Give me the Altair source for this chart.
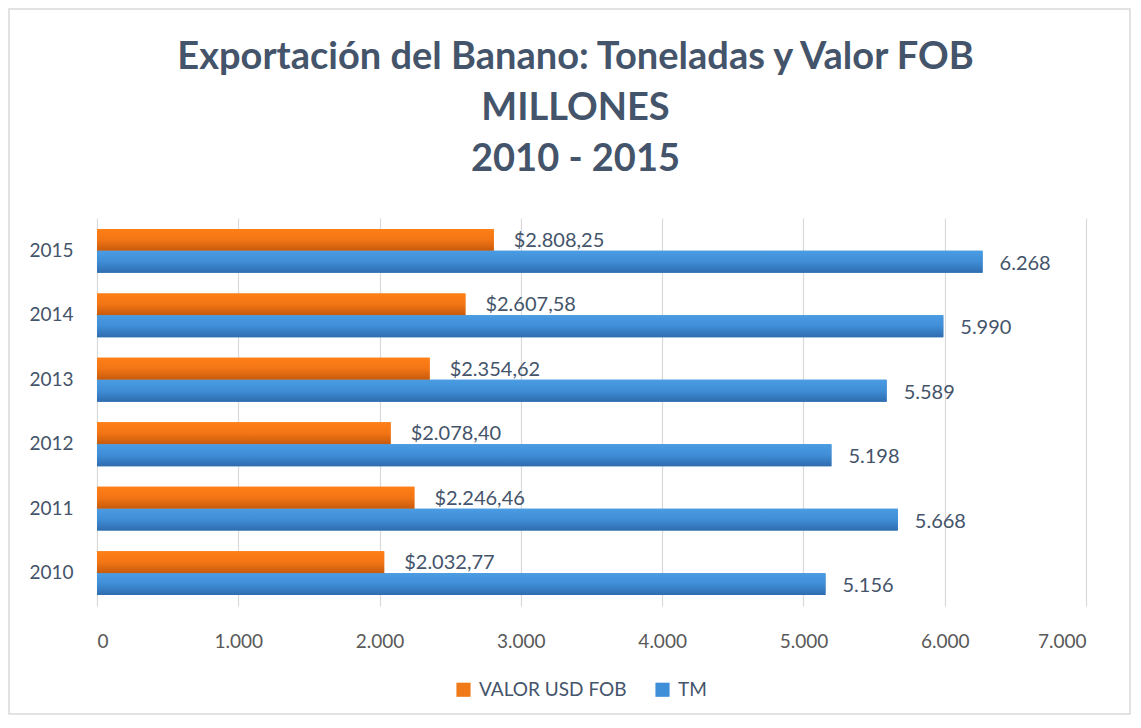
import altair as alt
import pandas as pd

years = ["2010", "2011", "2012", "2013", "2014", "2015"]
tm = [5156, 5668, 5198, 5589, 5990, 6268]
valor = [2032.77, 2246.46, 2078.40, 2354.62, 2607.58, 2808.25]
series_names = ["VALOR USD FOB", "TM"]
x_ticks = [0, 1000, 2000, 3000, 4000, 5000, 6000, 7000]

rows = []
for y, v in zip(years, valor):
    rows.append({"year": y, "series": series_names[0], "value": v})
for y, t in zip(years, tm):
    rows.append({"year": y, "series": series_names[1], "value": t})
df = pd.DataFrame(rows)

FONT = "Lato"
TXT = "#44546A"
ORANGE = "#F07A1A"
BLUE = "#3E8FD8"

grad_orange = alt.Gradient(
    gradient="linear", x1=0, x2=0, y1=0, y2=1,
    stops=[alt.GradientStop(color="#FF7F17", offset=0),
           alt.GradientStop(color="#F27515", offset=0.5),
           alt.GradientStop(color="#C75A0C", offset=1)])
grad_blue = alt.Gradient(
    gradient="linear", x1=0, x2=0, y1=0, y2=1,
    stops=[alt.GradientStop(color="#4A9CE3", offset=0),
           alt.GradientStop(color="#3F8DD6", offset=0.5),
           alt.GradientStop(color="#2F6CAE", offset=1)])

W, H = 989, 388

yenc = alt.Y("year:N", sort=years[::-1], title=None,
             scale=alt.Scale(paddingInner=0.32, paddingOuter=0.17),
             axis=alt.Axis(domain=False, ticks=False, labelPadding=24,
                           labelFontSize=19, labelColor=TXT, labelFont=FONT))
yoff = alt.YOffset("series:N", scale=alt.Scale(domain=series_names, paddingInner=0, paddingOuter=0))
xenc = alt.X("value:Q", title=None,
             scale=alt.Scale(domain=[0, 7000], nice=False),
             axis=alt.Axis(values=x_ticks, format=",d", domain=False, ticks=False,
                           gridColor="#D9D9D9", gridWidth=1.2, labelPadding=26,
                           labelFontSize=19, labelColor="#595959", labelFont=FONT))

base = alt.Chart(df).encode(y=yenc, yOffset=yoff, x=xenc)

legend_bars = base.mark_bar().encode(
    color=alt.Color("series:N", scale=alt.Scale(domain=series_names, range=[ORANGE, BLUE]),
                    title=None,
                    legend=alt.Legend(orient="none", legendX=357, legendY=462, direction="horizontal",
                                      symbolType="square", symbolSize=200, symbolStrokeWidth=0,
                                      labelFontSize=19, labelColor=TXT, labelFont=FONT,
                                      columnPadding=26, labelOffset=6))
)

shadow = base.mark_bar(color="#000000", opacity=0.12, yOffset=3, xOffset=2, cornerRadius=2).transform_filter(
    alt.datum.series == "TM")

orange_bars = base.mark_bar(fill=grad_orange).transform_filter(alt.datum.series == series_names[0])
blue_bars = base.mark_bar(fill=grad_blue).transform_filter(alt.datum.series == series_names[1])

lab_orange = base.mark_text(align="left", baseline="middle", dx=20, dy=1, fontSize=20,
                            font=FONT, color=TXT).encode(
    text=alt.Text("value:Q", format="$,.2f")).transform_filter(alt.datum.series == series_names[0])
lab_blue = base.mark_text(align="left", baseline="middle", dx=17, dy=2, fontSize=20,
                          font=FONT, color=TXT).encode(
    text=alt.Text("value:Q", format=",d")).transform_filter(alt.datum.series == series_names[1])

frame = alt.Chart(pd.DataFrame({"a": [0]})).mark_rect(
    fill=None, stroke="#D9D9D9", strokeWidth=1.5).encode(
    x=alt.value(-88), x2=alt.value(W + 44), y=alt.value(-209), y2=alt.value(H + 108))

chart = alt.layer(legend_bars, shadow, orange_bars, blue_bars, lab_orange, lab_blue, frame).properties(
    width=W, height=H,
    title=alt.Title(["Exportación del Banano: Toneladas y Valor FOB", "MILLONES", "2010 - 2015"],
                    font=FONT, fontSize=38, fontWeight="bold", color=TXT,
                    lineHeight=51, anchor="middle", dx=-16, offset=-171),
    padding={"left": 89, "top": 210, "right": 46, "bottom": 110},
    autosize=alt.AutoSizeParams(type="none"),
).configure(
    locale={"number": {"decimal": ",", "thousands": ".", "grouping": [3], "currency": ["$", ""]}}
).configure_view(stroke=None)

chart.save("out.html", embed_options={"renderer": "svg", "actions": False})
